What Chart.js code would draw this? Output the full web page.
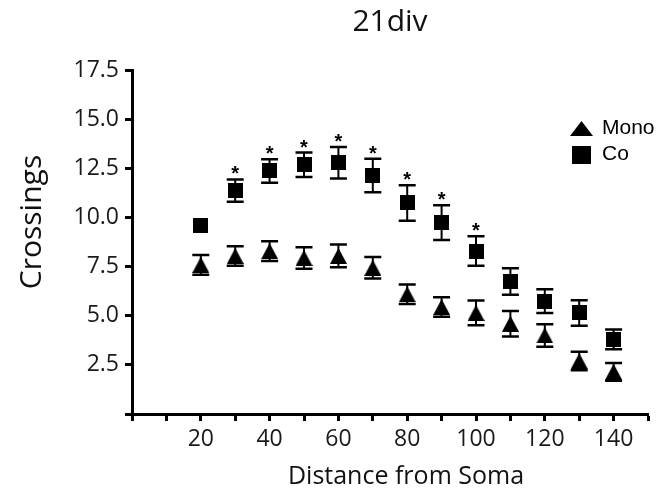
<!DOCTYPE html>
<html>
<head>
<meta charset="utf-8">
<script src="https://cdn.jsdelivr.net/npm/chart.js@4/dist/chart.umd.min.js"></script>
<style>
  html, body { margin: 0; padding: 0; background: #fff; }
  #wrap { width: 660px; height: 493px; }
</style>
</head>
<body>
<div id="wrap"><canvas id="c" width="660" height="493"></canvas></div>
<script>
// Sholl analysis at 21 div: mean crossings (± SEM) against distance from soma
const chartTitle = '21div';
const xAxisTitle = 'Distance from Soma';
const yAxisTitle = 'Crossings';

const distances = [20, 30, 40, 50, 60, 70, 80, 90, 100, 110, 120, 130, 140];

const monoLabel = 'Mono';
const monoMean = [7.6, 8.05, 8.3, 7.95, 8.05, 7.45, 6.1, 5.45, 5.15, 4.6, 4.0, 2.7, 2.15];
const monoSem  = [0.5, 0.5, 0.5, 0.55, 0.58, 0.55, 0.5, 0.5, 0.63, 0.65, 0.57, 0.47, 0.45];

const coLabel = 'Co';
const coMean = [9.6, 11.38, 12.38, 12.7, 12.8, 12.15, 10.75, 9.75, 8.3, 6.75, 5.75, 5.15, 3.8];
const coSem  = [0.3, 0.57, 0.6, 0.62, 0.8, 0.85, 0.9, 0.88, 0.75, 0.68, 0.6, 0.65, 0.5];
// significance marks (*) over the Co series
const coSignificant = [false, true, true, true, true, true, true, true, true, false, false, false, false];

const xTickLabels = [20, 40, 60, 80, 100, 120, 140];
const yTickLabels = ['2.5', '5.0', '7.5', '10.0', '12.5', '15.0', '17.5'];

// marker shapes, drawn centred on their bounding box
function triangleMark(w, h) {
  const c = document.createElement('canvas');
  c.width = w; c.height = h;
  const g = c.getContext('2d');
  g.fillStyle = '#000';
  g.beginPath();
  g.moveTo(w / 2, 0);
  g.lineTo(w, h);
  g.lineTo(0, h);
  g.closePath();
  g.fill();
  return c;
}
function squareMark(w, h) {
  const c = document.createElement('canvas');
  c.width = w; c.height = h;
  const g = c.getContext('2d');
  g.fillStyle = '#000';
  g.fillRect(0, 0, w, h);
  return c;
}
const triPoint = triangleMark(17, 16);
const sqPoint = squareMark(15, 15);
const triLegend = triangleMark(23, 15);
const sqLegend = squareMark(19, 18);

const toPoints = (means) => means.map((v, i) => ({ x: distances[i], y: v }));

const series = [
  { mean: monoMean, sem: monoSem, half: 8, sig: null },
  { mean: coMean, sem: coSem, half: 7.5, sig: coSignificant }
];

// SEM bars and significance asterisks
const errorBars = {
  id: 'errorBars',
  beforeDatasetsDraw(chart) {
    const { ctx, scales: { x, y } } = chart;
    ctx.save();
    ctx.strokeStyle = '#000';
    series.forEach((s) => {
      s.mean.forEach((m, i) => {
        const px = x.getPixelForValue(distances[i]);
        const py = y.getPixelForValue(m);
        const hi = y.getPixelForValue(m + s.sem[i]);
        const lo = y.getPixelForValue(m - s.sem[i]);
        if (py - hi <= s.half) return;
        ctx.lineWidth = 2;
        ctx.beginPath();
        ctx.moveTo(px, hi);
        ctx.lineTo(px, lo);
        ctx.stroke();
        ctx.lineWidth = 2.5;
        ctx.beginPath();
        ctx.moveTo(px - 8.5, hi); ctx.lineTo(px + 8.5, hi);
        ctx.moveTo(px - 8.5, lo); ctx.lineTo(px + 8.5, lo);
        ctx.stroke();
      });
    });
    ctx.restore();
  },
  afterDatasetsDraw(chart) {
    const { ctx, scales: { x, y } } = chart;
    ctx.save();
    ctx.fillStyle = '#000';
    ctx.font = 'bold 20px "Liberation Sans"';
    ctx.textAlign = 'center';
    ctx.textBaseline = 'alphabetic';
    series.forEach((s) => {
      if (!s.sig) return;
      s.mean.forEach((m, i) => {
        if (!s.sig[i]) return;
        const px = x.getPixelForValue(distances[i]);
        const top = y.getPixelForValue(m + s.sem[i]);
        ctx.fillText('*', px, top + 1);
      });
    });
    ctx.restore();
  }
};

// axis titles
const axisTitles = {
  id: 'axisTitles',
  afterDraw(chart) {
    const { ctx } = chart;
    ctx.save();
    ctx.fillStyle = '#111';
    ctx.textAlign = 'center';
    ctx.textBaseline = 'middle';
    ctx.font = '25px "Open Sans"';
    ctx.fillText(xAxisTitle, 406, 477);
    ctx.translate(32, 222);
    ctx.rotate(-Math.PI / 2);
    ctx.font = '30px "Open Sans"';
    ctx.fillText(yAxisTitle, 0, 0);
    ctx.restore();
  }
};

// legend placed in the upper right of the plot area
const legendPlace = {
  id: 'legendPlace',
  afterLayout(chart) {
    const lg = chart.legend;
    if (!lg) return;
    const w = lg.width, h = lg.height;
    lg.left = 566.5; lg.top = 113;
    lg.right = lg.left + w; lg.bottom = lg.top + h;
  }
};

const axisGrid = { drawOnChartArea: false, drawTicks: true, tickLength: 7, tickWidth: 3, tickColor: '#000' };
const axisBorder = { display: true, width: 3, color: '#000' };
const tickFont = { family: 'Open Sans', size: 23 };

new Chart(document.getElementById('c'), {
  type: 'scatter',
  data: {
    datasets: [
      { label: monoLabel, data: toPoints(monoMean), pointStyle: triPoint, backgroundColor: '#000', borderColor: '#000', showLine: false },
      { label: coLabel, data: toPoints(coMean), pointStyle: sqPoint, backgroundColor: '#000', borderColor: '#000', showLine: false }
    ]
  },
  options: {
    responsive: false,
    animation: false,
    devicePixelRatio: 1,
    layout: { padding: { left: 0, right: 12, top: 0, bottom: 0 } },
    plugins: {
      title: {
        display: true, text: chartTitle, color: '#111', fullSize: false,
        font: { family: 'Open Sans', size: 30, weight: 'normal', lineHeight: 1.2 },
        padding: { top: 4, bottom: 30.5 }
      },
      legend: {
        position: 'chartArea', align: 'start',
        labels: {
          usePointStyle: true, boxWidth: 20, padding: 5, color: '#111',
          font: { family: 'Liberation Sans', size: 21 },
          generateLabels: () => [
            { text: monoLabel, pointStyle: triLegend, fillStyle: '#000', strokeStyle: '#000', lineWidth: 0, datasetIndex: 0, hidden: false },
            { text: coLabel, pointStyle: sqLegend, fillStyle: '#000', strokeStyle: '#000', lineWidth: 0, datasetIndex: 1, hidden: false }
          ]
        }
      },
      tooltip: { enabled: false }
    },
    scales: {
      x: {
        type: 'linear', min: 0, max: 150,
        afterFit(s) { s.height = 79; },
        ticks: {
          stepSize: 10, autoSkip: false, maxRotation: 0, padding: 5,
          color: '#1a1a1a', font: tickFont,
          callback: (v) => (xTickLabels.includes(v) ? String(v) : '')
        },
        grid: axisGrid, border: axisBorder
      },
      y: {
        type: 'linear', min: 0, max: 17.5,
        afterFit(s) { s.width = 132; },
        ticks: {
          stepSize: 2.5, padding: 6, color: '#1a1a1a', font: tickFont,
          callback: (v) => { const t = Number(v).toFixed(1); return yTickLabels.includes(t) ? t : ''; }
        },
        grid: axisGrid, border: axisBorder
      }
    }
  },
  plugins: [errorBars, axisTitles, legendPlace]
});
</script>
</body>
</html>
